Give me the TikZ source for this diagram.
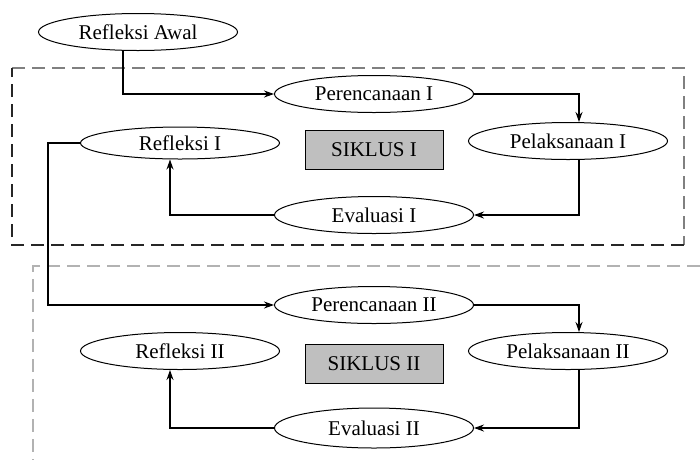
\documentclass[tikz,border=0pt]{standalone}
\usepackage{fontspec}
\setmainfont{Liberation Serif}
\usetikzlibrary{arrows.meta,shapes.geometric}
\tikzset{>={Stealth[length=10pt,width=7pt]}}
\tikzset{
  stage/.style={draw, ellipse, line width=1pt, inner sep=0pt,
    minimum width=199pt, minimum height=37pt, font=\fontsize{21}{24}\selectfont},
  cyclebox/.style={draw, fill=gray!50, line width=1pt, inner sep=0pt,
    minimum width=138pt, minimum height=39pt, font=\fontsize{21}{24}\selectfont},
  flow/.style={->, line width=1.2pt},
  frame/.style={dash pattern=on 13pt off 7pt, line width=2.2pt}
}

\begin{document}
\begin{tikzpicture}[x=1pt, y=-1pt]
  \useasboundingbox (0, 0) rectangle (700, 459);
  \clip (0, 0) rectangle (700, 459);

  % cycle frames
  \draw[frame, gray] (12, 68) -- (684, 68) -- (684, 245);
  \draw[frame, black!85] (684, 245) -- (12, 245) -- (12, 68);
  \draw[frame, gray!60] (720, 266) -- (33, 266) -- (33, 480);

  \node[stage] (awal) at (138, 32) {Refleksi Awal};

  \node[stage] (ren1) at (374, 94) {Perencanaan I};
  \node[stage] (pel1) at (568, 141) {Pelaksanaan I};
  \node[stage] (eva1) at (374, 215) {Evaluasi I};
  \node[stage, minimum height=32pt] (ref1) at (180, 143) {Refleksi I};
  \node[cyclebox] (sik1) at (374, 150) {SIKLUS I};

  \node[stage] (ren2) at (374, 305) {Perencanaan II};
  \node[stage] (pel2) at (568, 351) {Pelaksanaan II};
  \node[stage, minimum height=40pt] (eva2) at (374, 428) {Evaluasi II};
  \node[stage] (ref2) at (180, 351) {Refleksi II};
  \node[cyclebox] (sik2) at (374, 364) {SIKLUS II};

  \draw[flow] ([xshift=-15pt]awal.south) |- (ren1.west);
  \draw[flow] (ren1.east) -| ([xshift=11pt]pel1.north);
  \draw[flow] ([xshift=11pt]pel1.south) |- (eva1.east);
  \draw[flow] (eva1.west) -| ([xshift=-10pt]ref1.south);
  \draw[flow] (ref1.west) -- ++(-32, 0) |- (ren2.west);
  \draw[flow] (ren2.east) -| ([xshift=11pt]pel2.north);
  \draw[flow] ([xshift=11pt]pel2.south) |- (eva2.east);
  \draw[flow] (eva2.west) -| ([xshift=-10pt]ref2.south);
\end{tikzpicture}
\end{document}
